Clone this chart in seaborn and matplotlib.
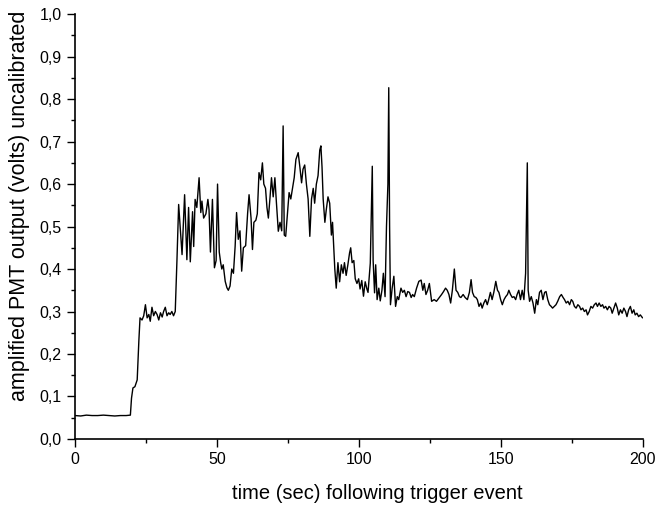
import numpy as np
import pandas as pd
import matplotlib
matplotlib.use("Agg")
import matplotlib.pyplot as plt
import seaborn as sns
from matplotlib.ticker import MultipleLocator, FuncFormatter

# --- values (sec, volts) ---
baseline_t = [0, 2, 4, 6, 8, 10, 12, 14, 16, 18, 19.5]
baseline_v = [0.055, 0.054, 0.056, 0.055, 0.055, 0.056, 0.055, 0.054, 0.055, 0.055, 0.056]

rise_t = [19.9, 20.4, 21.1, 21.9, 22.5, 22.9, 23.6, 24.2, 24.8, 25.4, 26.0, 26.5, 27.1,
          27.7, 28.3, 28.9, 29.5, 30.1, 30.7, 31.2, 31.8, 32.4, 33.0, 33.5, 34.1, 34.7,
          35.3, 35.9]
rise_v = [0.096, 0.12, 0.123, 0.139, 0.233, 0.285, 0.28, 0.29, 0.316, 0.285, 0.293, 0.277,
          0.31, 0.29, 0.30, 0.293, 0.28, 0.297, 0.287, 0.30, 0.31, 0.29, 0.297, 0.293, 0.30,
          0.29, 0.30, 0.42]

burst_t = [36.5, 37.7, 38.6, 39.4, 40.0, 40.6, 41.4, 41.8, 42.3, 42.9, 43.7, 44.3, 44.7,
           45.3, 46.1, 46.8, 47.2, 47.7, 48.4, 49.1, 49.7, 50.2, 50.8, 51.3, 51.7, 52.2,
           52.9, 53.5, 54.0, 54.6, 55.2, 55.8, 56.4, 56.9, 57.5, 58.1, 58.7, 59.3, 60.1,
           60.8, 61.3, 62.0, 62.5, 63.0, 63.7, 64.2, 64.8, 65.4, 66.0, 66.5, 67.1, 67.6,
           68.1, 68.7, 69.2, 69.8, 70.4, 70.9, 71.6, 72.2, 72.8, 73.3, 73.7, 74.2, 74.8,
           75.4, 76.0, 76.6, 77.2, 77.8, 78.6, 79.2, 79.8, 80.3, 80.9, 81.5, 82.1, 82.7,
           83.3, 83.9, 84.4, 85.0, 85.6, 86.2, 86.6, 87.0, 87.4, 88.0, 88.5, 89.1, 89.7,
           90.3, 90.7, 91.5, 92.0, 92.6, 93.2, 93.8, 94.4, 94.9, 95.5, 96.1, 96.7, 97.1,
           97.6, 98.2, 98.7, 99.3, 99.9, 100.4, 101.0, 101.6, 102.2, 102.8]
burst_v = [0.552, 0.434, 0.575, 0.422, 0.545, 0.417, 0.535, 0.453, 0.564, 0.545, 0.615,
           0.533, 0.56, 0.52, 0.53, 0.564, 0.54, 0.44, 0.564, 0.403, 0.42, 0.60, 0.44,
           0.415, 0.40, 0.41, 0.371, 0.356, 0.35, 0.36, 0.40, 0.39, 0.454, 0.533, 0.47,
           0.49, 0.395, 0.45, 0.455, 0.532, 0.575, 0.52, 0.446, 0.51, 0.515, 0.53, 0.627,
           0.61, 0.65, 0.60, 0.59, 0.545, 0.52, 0.57, 0.615, 0.57, 0.615, 0.56, 0.489,
           0.51, 0.49, 0.737, 0.48, 0.477, 0.53, 0.58, 0.565, 0.59, 0.615, 0.658, 0.674,
           0.64, 0.603, 0.635, 0.645, 0.60, 0.565, 0.477, 0.565, 0.59, 0.555, 0.60, 0.62,
           0.68, 0.69, 0.64, 0.565, 0.51, 0.54, 0.57, 0.555, 0.48, 0.51, 0.40, 0.355,
           0.415, 0.37, 0.41, 0.39, 0.415, 0.385, 0.41, 0.438, 0.45, 0.415, 0.42, 0.377,
           0.366, 0.377, 0.353, 0.373, 0.336, 0.37, 0.353]

tail_t = [103.2, 104.0, 104.7, 105.0, 105.5, 105.9, 106.4, 107.0, 107.5, 108.1, 108.6,
          109.2, 109.7, 110.2, 110.5, 110.8, 111.1, 111.7, 112.3, 112.9, 113.5, 114.0,
          114.8, 115.4, 116.0, 116.6, 117.2, 117.8, 118.4, 118.9, 119.5, 120.3, 121.1,
          121.9, 122.5, 123.0, 123.6, 124.2, 124.8, 125.6, 126.5, 127.3, 128.3, 129.1,
          129.8, 130.5, 131.1, 131.7, 132.3, 132.9, 133.6, 134.2, 134.8, 135.4, 135.9,
          136.7, 137.4, 138.2, 138.9, 139.5, 140.0, 140.6, 141.2, 141.7, 142.3, 142.9,
          143.4, 144.0, 144.6, 145.2, 145.7, 146.3, 146.9, 147.5, 148.2, 148.8, 149.3,
          149.9, 150.5, 151.1, 151.7, 152.3, 152.8, 153.4, 154.0, 154.6, 155.2, 155.7,
          156.3, 156.9, 157.5, 158.1, 158.7, 159.3, 159.6, 160.1, 160.7, 161.3, 161.9,
          162.5, 163.0, 163.6, 164.2, 164.8, 165.4, 165.9, 166.5, 167.1, 167.7, 168.2,
          168.8, 169.4, 170.0, 170.7, 171.3, 171.9, 172.4, 173.0, 173.6, 174.2, 174.8,
          175.3, 175.9, 176.5, 177.1, 177.7, 178.2, 178.8, 179.4, 180.0, 180.5, 181.1,
          181.7, 182.3, 182.9, 183.5, 184.0, 184.6, 185.2, 185.8, 186.3, 186.9, 187.5,
          188.1, 188.7, 189.2, 189.8, 190.4, 191.0, 191.5, 192.1, 192.7, 193.3, 193.9,
          194.4, 195.0, 195.6, 196.2, 196.8, 197.3, 197.9, 198.5, 199.1, 199.9]
tail_v = [0.345, 0.414, 0.642, 0.42, 0.344, 0.41, 0.328, 0.355, 0.325, 0.35, 0.39, 0.335,
          0.50, 0.60, 0.827, 0.50, 0.316, 0.355, 0.383, 0.312, 0.335, 0.328, 0.355, 0.345,
          0.35, 0.335, 0.347, 0.345, 0.333, 0.34, 0.335, 0.355, 0.371, 0.374, 0.35, 0.366,
          0.34, 0.35, 0.366, 0.324, 0.328, 0.324, 0.333, 0.34, 0.347, 0.355, 0.35, 0.34,
          0.32, 0.35, 0.40, 0.35, 0.345, 0.335, 0.333, 0.34, 0.333, 0.328, 0.345, 0.375,
          0.345, 0.335, 0.333, 0.328, 0.312, 0.32, 0.308, 0.32, 0.328, 0.316, 0.328, 0.345,
          0.328, 0.345, 0.371, 0.35, 0.345, 0.328, 0.316, 0.328, 0.335, 0.34, 0.35, 0.34,
          0.333, 0.335, 0.328, 0.34, 0.35, 0.328, 0.35, 0.328, 0.39, 0.65, 0.35, 0.324,
          0.335, 0.32, 0.296, 0.328, 0.316, 0.345, 0.35, 0.328, 0.345, 0.347, 0.328, 0.316,
          0.312, 0.308, 0.312, 0.316, 0.324, 0.335, 0.34, 0.333, 0.328, 0.32, 0.324, 0.316,
          0.328, 0.324, 0.312, 0.308, 0.316, 0.312, 0.304, 0.308, 0.30, 0.304, 0.292, 0.30,
          0.312, 0.308, 0.316, 0.32, 0.312, 0.32, 0.312, 0.316, 0.308, 0.312, 0.304, 0.312,
          0.308, 0.296, 0.308, 0.32, 0.308, 0.292, 0.304, 0.296, 0.308, 0.30, 0.288, 0.304,
          0.312, 0.296, 0.304, 0.292, 0.296, 0.288, 0.292, 0.285]

df = pd.DataFrame({
    "t": baseline_t + rise_t + burst_t + tail_t,
    "v": baseline_v + rise_v + burst_v + tail_v,
})

sns.set_style("ticks", {"axes.edgecolor": "black", "text.color": "black",
                        "axes.labelcolor": "black", "xtick.color": "black",
                        "ytick.color": "black"})
plt.rcParams["font.family"] = ["Liberation Sans", "DejaVu Sans"]

fig = plt.figure(figsize=(6.58, 5.08), dpi=100)
ax = fig.add_axes([0.114, 0.136, 0.863, 0.836])
sns.lineplot(data=df, x="t", y="v", ax=ax, color="black", linewidth=1.0,
             estimator=None, sort=False)

ax.set_xlim(0, 200)
ax.set_ylim(0, 1.0)
ax.xaxis.set_major_locator(MultipleLocator(50))
ax.xaxis.set_minor_locator(MultipleLocator(25))
ax.yaxis.set_major_locator(MultipleLocator(0.1))
ax.yaxis.set_minor_locator(MultipleLocator(0.05))
ax.yaxis.set_major_formatter(FuncFormatter(lambda v, p: f"{v:.1f}".replace(".", ",")))
ax.tick_params(which="major", length=6, width=1, labelsize=11.5, direction="out")
ax.tick_params(which="minor", length=3, width=1, direction="out")
for s in ["top", "right"]:
    ax.spines[s].set_visible(False)
for s in ["left", "bottom"]:
    ax.spines[s].set_linewidth(1.2)

ax.set_xlabel("time (sec) following trigger event", fontsize=14.5)
ax.set_ylabel("amplified PMT output (volts) uncalibrated", fontsize=15.5)
ax.xaxis.set_label_coords(0.533, -0.105)
ax.yaxis.set_label_coords(-0.079, 0.55)

fig.savefig("out.png", dpi=100)
